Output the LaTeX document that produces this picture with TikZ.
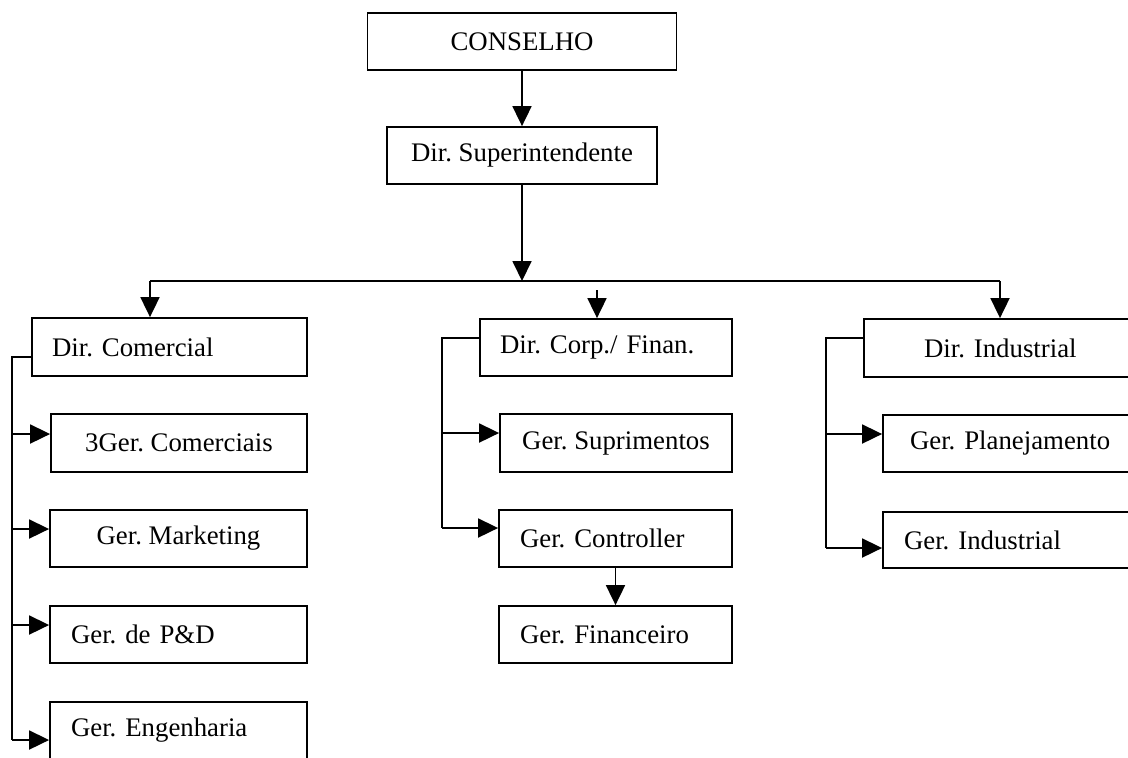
\documentclass[tikz,border=0pt]{standalone}
\usepackage{fontspec}
\setmainfont{Liberation Serif}
\usetikzlibrary{arrows.meta}
\frenchspacing
\begin{document}
\begin{tikzpicture}[x=0.5pt,y=-0.5pt,
  line width=0.9pt,
  box/.style={draw, line width=0.9pt, inner sep=0pt, font=\fontsize{13.4}{16}\selectfont\frenchspacing},
  lbox/.style={box, align=left},
  arr/.style={-{Triangle[length=10pt,width=9.5pt]}}]
\useasboundingbox (0,0) rectangle (1128,757);
\clip (0,0) rectangle (1128,757);

% top of the chart
\node[box, minimum width=154.5pt, minimum height=28.5pt] (cons) at (522,41.5) {CONSELHO};
\node[box, minimum width=135pt, minimum height=28.5pt] (sup) at (522,155.5) {Dir. Superintendente};

% commercial branch
\node[lbox, minimum width=137.5pt, minimum height=29pt, inner xsep=10pt, text width=117.5pt] (dcom) at (169.5,347) {Dir. Comercial};
\node[box, minimum width=128pt, minimum height=29pt] (g3) at (179,443) {3Ger. Comerciais};
\node[box, minimum width=128.5pt, minimum height=28.5pt] (gmkt) at (178.5,538.5) {Ger. Marketing};
\node[lbox, minimum width=128.5pt, minimum height=28.5pt, inner xsep=10.5pt, text width=107.5pt] (gpd) at (178.5,634.5) {Ger. de P\&D};
\node[lbox, minimum width=128.5pt, minimum height=28.5pt, inner xsep=10.5pt, text width=107.5pt] (geng) at (178.5,730.5) {Ger. Engenharia};

% corporate / finance branch
\node[lbox, minimum width=126pt, minimum height=28.5pt, inner xsep=10pt, text width=106pt] (dcorp) at (606,347.5) {Dir. Corp./ Finan.};
\node[box, minimum width=116pt, minimum height=29pt] (gsup) at (616,443) {Ger. Suprimentos};
\node[lbox, minimum width=116.5pt, minimum height=28.5pt, inner xsep=10.5pt, text width=95.5pt] (gctrl) at (615.5,538.5) {Ger. Controller};
\node[lbox, minimum width=116.5pt, minimum height=28.5pt, inner xsep=10.5pt, text width=95.5pt] (gfin) at (615.5,634.5) {Ger. Financeiro};

% industrial branch
\node[lbox, minimum width=143pt, minimum height=29pt, inner xsep=30pt, text width=83pt] (dind) at (1007,348) {Dir. Industrial};
\node[lbox, minimum width=133.5pt, minimum height=28.5pt, inner xsep=13.5pt, text width=106.5pt] (gplan) at (1016.5,443.5) {Ger. Planejamento};
\node[lbox, minimum width=133.5pt, minimum height=28pt, inner xsep=10.5pt, text width=112.5pt] (gind) at (1016.5,540) {Ger. Industrial};

% main distribution line
\coordinate (bus) at (522,281);
\coordinate (jl) at (150,281);
\coordinate (jr) at (1000,281);
\coordinate (jc) at (597,290);

\draw[arr] (cons.south) -- (sup.north);
\draw[arr] (sup.south) -- (bus);
\draw (jl) -- (jr);
\draw[arr] (jl) -- (jl |- dcom.north);
\draw[arr] (jr) -- (jr |- dind.north);
\draw[arr] (jc) -- (jc |- dcorp.north);

% commercial spine
\coordinate (ca) at (12,357);
\coordinate (c1) at (12,434);
\coordinate (c2) at (12,529);
\coordinate (c3) at (12,625);
\coordinate (c4) at (12,740);
\draw (dcom.west |- ca) -- (ca) -- (c4);
\draw[arr] (c1) -- (g3.west |- c1);
\draw[arr] (c2) -- (gmkt.west |- c2);
\draw[arr] (c3) -- (gpd.west |- c3);
\draw[arr] (c4) -- (geng.west |- c4);

% corporate spine
\coordinate (ma) at (442,338);
\coordinate (m1) at (442,433);
\coordinate (m2) at (442,528);
\draw (dcorp.west |- ma) -- (ma) -- (m2);
\draw[arr] (m1) -- (gsup.west |- m1);
\draw[arr] (m2) -- (gctrl.west |- m2);
\draw[arr] (gctrl.south) -- (gfin.north);

% industrial spine
\coordinate (ia) at (826,338);
\coordinate (i1) at (826,434);
\coordinate (i2) at (826,548);
\draw (dind.west |- ia) -- (ia) -- (i2);
\draw[arr] (i1) -- (gplan.west |- i1);
\draw[arr] (i2) -- (gind.west |- i2);
\end{tikzpicture}
\end{document}
